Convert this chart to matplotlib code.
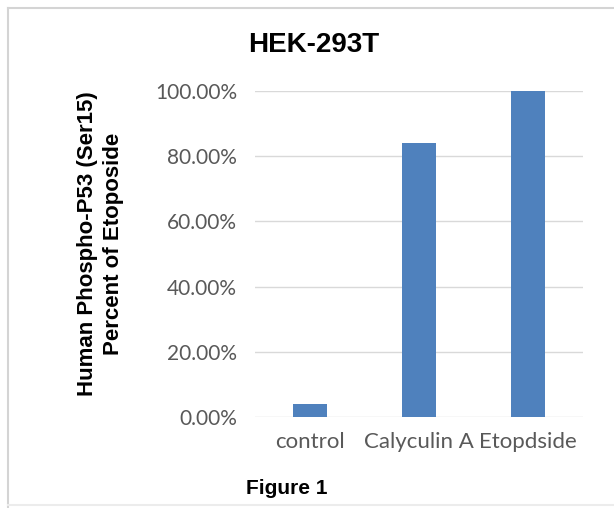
import matplotlib
matplotlib.use('Agg')
from matplotlib import pyplot as plt
from matplotlib.lines import Line2D
from matplotlib.ticker import FuncFormatter

categories = ['control', 'Calyculin A', 'Etopdside']
percent_of_etoposide = [0.04, 0.84, 1.00]
y_ticks = [0.0, 0.2, 0.4, 0.6, 0.8, 1.0]

fig = plt.figure(figsize=(6.14, 5.08), dpi=100)
ax = fig.add_axes([255 / 614, 1 - 417 / 508, 328 / 614, 326 / 508])

x = range(len(categories))
ax.bar(x, percent_of_etoposide, width=0.31, color='#4f81bd', zorder=3)

ax.set_xlim(-0.5, len(categories) - 0.5)
ax.set_ylim(0, 1.0)
ax.set_yticks(y_ticks)
ax.yaxis.set_major_formatter(FuncFormatter(lambda v, p: '%.2f%%' % (v * 100)))
ax.set_xticks(list(x))
ax.set_xticklabels(categories)
ax.grid(axis='y', color='#d9d9d9', linewidth=1.0, zorder=0)
for s in ax.spines.values():
    s.set_visible(False)
ax.tick_params(axis='y', length=0, labelsize=15, labelcolor='#595959', pad=13)
ax.tick_params(axis='x', length=0, labelsize=16, labelcolor='#595959', pad=11)
for lbl in ax.get_xticklabels() + ax.get_yticklabels():
    lbl.set_fontfamily('Lato')

# title, axis label and caption in bold Arial-like face
bold = dict(family='Liberation Sans', weight='bold', color='black')
fig.text(314 / 614, 1 - 45 / 508, 'HEK-293T', fontsize=20, ha='center', va='center', **bold)
fig.text(88 / 614, 1 - 244 / 508, 'Human Phospho-P53 (Ser15)', fontsize=16,
         rotation=90, ha='center', va='center', **bold)
fig.text(114 / 614, 1 - 244 / 508, 'Percent of Etoposide', fontsize=16,
         rotation=90, ha='center', va='center', **bold)
fig.text(287 / 614, 1 - 489 / 508, 'Figure 1', fontsize=15, ha='center', va='center', **bold)

# light frame around the chart area
frame = dict(transform=fig.transFigure, color='#d4d4d4', linewidth=1.5)
fig.add_artist(Line2D([8 / 614, 8 / 614], [0, 1 - 8 / 508], **frame))
fig.add_artist(Line2D([8 / 614, 1], [1 - 8 / 508, 1 - 8 / 508], **frame))
fig.add_artist(Line2D([8 / 614, 1], [3 / 508, 3 / 508], transform=fig.transFigure,
                      color='#ececec', linewidth=1.5))

plt.savefig('out.png', dpi=100)
